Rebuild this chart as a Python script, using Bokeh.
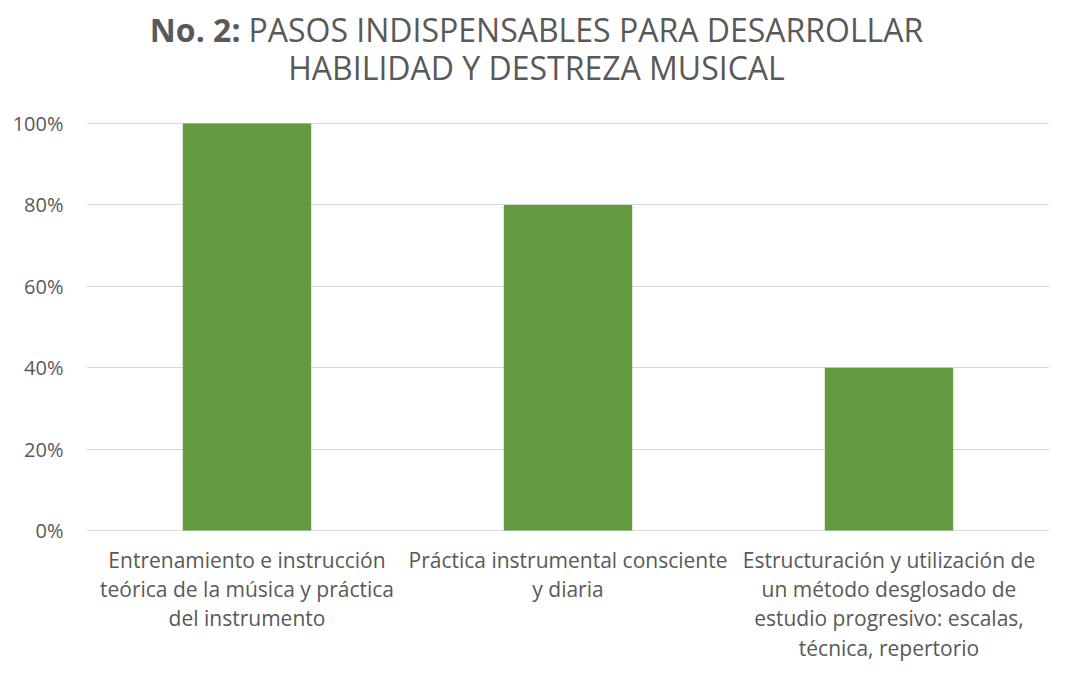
from bokeh.plotting import figure
from bokeh.models import Range1d, FixedTicker, NumeralTickFormatter, ColumnDataSource
from bokeh.core.properties import value
from bokeh.embed import file_html
from bokeh.resources import INLINE

categories = [
    "Entrenamiento e instrucción\nteórica de la música y práctica\ndel instrumento",
    "Práctica instrumental consciente\ny diaria",
    "Estructuración y utilización de\nun método desglosado de\nestudio progresivo: escalas,\ntécnica, repertorio",
]
values = [1.0, 0.8, 0.4]
y_ticks = [0, 0.2, 0.4, 0.6, 0.8, 1.0]
title_bold = "No. 2:"
title_line1 = "PASOS INDISPENSABLES PARA DESARROLLAR"
title_line2 = "HABILIDAD Y DESTREZA MUSICAL"

FONT = "Open Sans"
GREY = "#595959"

W, H = 1071, 677
FL, FR, FT, FB = 86, 1049, 123, 530          # plot area in pixels
PX_PER_Y = (FB - FT) / 1.0
PX_PER_X = (FR - FL) / 3.0
y_lo = -(H - FB) / PX_PER_Y
y_hi = 1.0 + FT / PX_PER_Y

def xpx(px):
    return (px - FL) / PX_PER_X - 0.5

def ypx(py):
    return (FB - py) / PX_PER_Y

p = figure(width=W, height=H, output_backend="svg", toolbar_location=None,
           x_range=Range1d(-0.5, 2.5), y_range=Range1d(y_lo, y_hi),
           min_border_left=FL, min_border_right=W - FR, min_border_top=0, min_border_bottom=0)
p.outline_line_color = None
p.background_fill_color = "white"

xs = list(range(len(categories)))
src = ColumnDataSource(dict(x=xs, top=values, label=categories))
p.vbar(x="x", top="top", width=0.4, source=src, fill_color="#629B3F", line_color=None)

p.xaxis.visible = False
p.xgrid.visible = False
p.ygrid.grid_line_color = "#D9D9D9"
p.ygrid.grid_line_width = 1

ya = p.yaxis[0]
ya.ticker = FixedTicker(ticks=y_ticks)
ya.formatter = NumeralTickFormatter(format="0%")
ya.axis_line_color = None
ya.major_tick_line_color = None
ya.minor_tick_line_color = None
ya.major_tick_in = 0
ya.major_tick_out = 0
ya.major_label_standoff = 23
ya.major_label_text_font = FONT
ya.major_label_text_font_size = "20px"
ya.major_label_text_color = GREY

# category labels under the bars
p.text(x="x", y=ypx(545), text="label", source=src, text_align="center", text_baseline="top",
       text_font=value(FONT), text_font_size="21px", text_color=GREY, text_line_height=1.05)

# title
TS = "32px"
bold_right = 240
p.text(x=[xpx(bold_right)], y=[ypx(29)], text=[title_bold], text_align="right",
       text_baseline="alphabetic", text_font=value(FONT), text_font_size=TS,
       text_font_style="bold", text_color=GREY)
p.text(x=[xpx(bold_right + 8)], y=[ypx(29)], text=[title_line1], text_align="left",
       text_baseline="alphabetic", text_font=value(FONT), text_font_size=TS, text_color=GREY)
p.text(x=[xpx(536)], y=[ypx(67)], text=[title_line2], text_align="center",
       text_baseline="alphabetic", text_font=value(FONT), text_font_size=TS, text_color=GREY)

open("out.html", "w").write(file_html(p, INLINE))
